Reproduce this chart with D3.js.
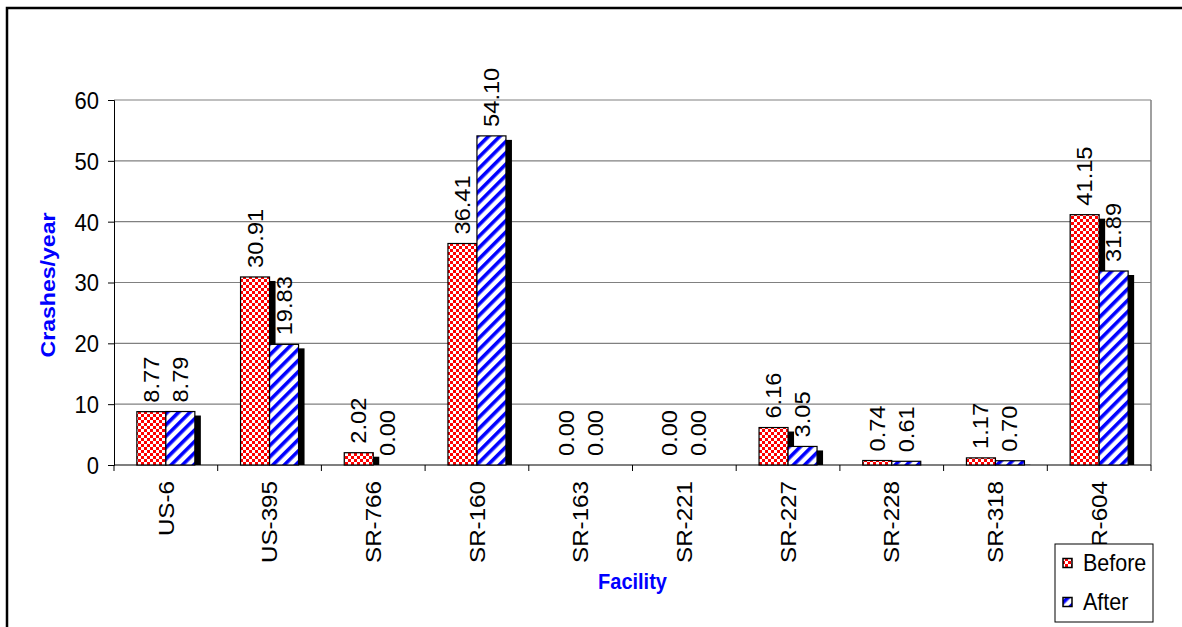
<!DOCTYPE html>
<html>
<head>
<meta charset="utf-8">
<script src="https://cdnjs.cloudflare.com/ajax/libs/d3/7.8.5/d3.min.js"></script>
<style>
  html, body { margin: 0; padding: 0; background: #fff; }
  svg { display: block; font-family: "Liberation Sans", Arial, sans-serif; }
</style>
</head>
<body>
<svg id="chart" width="1182" height="627"></svg>
<script>
// Crash frequency per facility, before and after
const facilities = ["US-6", "US-395", "SR-766", "SR-160", "SR-163", "SR-221", "SR-227", "SR-228", "SR-318", "SR-604"];
const beforeValues = [8.77, 30.91, 2.02, 36.41, 0.00, 0.00, 6.16, 0.74, 1.17, 41.15];
const afterValues  = [8.79, 19.83, 0.00, 54.10, 0.00, 0.00, 3.05, 0.61, 0.70, 31.89];
const yTicks = [0, 10, 20, 30, 40, 50, 60];
const seriesNames = ["Before", "After"];

const svg = d3.select("#chart");
const W = 1182, H = 627;
const plot = { left: 114, right: 1151, top: 100, bottom: 465 };
const SY = 1.1; // text is drawn slightly taller than wide

const x = d3.scaleBand().domain(facilities).range([plot.left, plot.right]).padding(0);
const y = d3.scaleLinear().domain([0, 60]).range([plot.bottom, plot.top]);
const barW = 29;

// Fill patterns
const defs = svg.append("defs");
const c = 3;
const chk = defs.append("pattern").attr("id", "checker")
  .attr("patternUnits", "userSpaceOnUse").attr("width", 2 * c).attr("height", 2 * c);
chk.append("rect").attr("width", 2 * c).attr("height", 2 * c).attr("fill", "#ff0000");
chk.append("rect").attr("x", 0).attr("y", 0).attr("width", c).attr("height", c).attr("fill", "#ffffff");
chk.append("rect").attr("x", c).attr("y", c).attr("width", c).attr("height", c).attr("fill", "#ffffff");

const str = defs.append("pattern").attr("id", "stripes")
  .attr("patternUnits", "userSpaceOnUse").attr("width", 8).attr("height", 8)
  .attr("patternTransform", "rotate(45)");
str.append("rect").attr("width", 8).attr("height", 8).attr("fill", "#ffffff");
str.append("rect").attr("width", 3.6).attr("height", 8).attr("fill", "#0000ff");

// Outer frame
svg.append("rect").attr("x", 7).attr("y", 8).attr("width", W + 20).attr("height", H + 20)
  .attr("fill", "none").attr("stroke", "#000").attr("stroke-width", 2.5);

// Gridlines
svg.append("g").selectAll("line").data(yTicks.filter(d => d > 0)).join("line")
  .attr("x1", plot.left).attr("x2", plot.right)
  .attr("y1", d => y(d)).attr("y2", d => y(d))
  .attr("stroke", "#808080").attr("stroke-width", 1.2);
// Plot frame right side
svg.append("line").attr("x1", plot.right).attr("x2", plot.right)
  .attr("y1", plot.top).attr("y2", plot.bottom)
  .attr("stroke", "#808080").attr("stroke-width", 1.5);

// Y axis
const yAxis = d3.axisLeft(y).tickValues(yTicks).tickSize(6).tickPadding(9).tickFormat(d3.format("d"));
const gy = svg.append("g").attr("transform", `translate(${plot.left},0)`).call(yAxis);
gy.select(".domain").attr("stroke", "#000");
gy.selectAll(".tick line").attr("stroke", "#000");
gy.selectAll(".tick text").remove();
gy.selectAll(".tick").append("text")
  .attr("transform", `translate(-15,0) scale(1,${SY})`)
  .attr("text-anchor", "end").attr("dy", "0.35em")
  .attr("font-size", 22).attr("fill", "#000")
  .attr("font-family", "Liberation Sans, Arial, sans-serif")
  .text(d => d3.format("d")(d));

// X axis: baseline with ticks at category boundaries
svg.append("line").attr("x1", plot.left).attr("x2", plot.right)
  .attr("y1", plot.bottom).attr("y2", plot.bottom).attr("stroke", "#000").attr("stroke-width", 1.2);
const bounds = facilities.map(f => x(f)).concat([plot.right]);
svg.append("g").selectAll("line").data(bounds).join("line")
  .attr("x1", d => d).attr("x2", d => d)
  .attr("y1", plot.bottom).attr("y2", plot.bottom + 6)
  .attr("stroke", "#000");

// Category labels
svg.append("g").selectAll("text").data(facilities).join("text")
  .attr("transform", d => `translate(${x(d) + x.bandwidth() / 2},481) scale(1,${SY}) rotate(-90)`)
  .attr("text-anchor", "end").attr("dy", "0.35em")
  .attr("font-size", 22).text(d => d);

// Bars with drop shadows
const series = [
  { name: "Before", values: beforeValues, fill: "url(#checker)", off: -barW },
  { name: "After", values: afterValues, fill: "url(#stripes)", off: 0 }
];
const gBars = svg.append("g");
facilities.forEach((f, i) => {
  const cx = x(f) + x.bandwidth() / 2;
  series.forEach(s => {
    const v = s.values[i];
    const top = y(v);
    const h = plot.bottom - top;
    if (h <= 0) return;
    const bx = cx + s.off;
    if (h > 4) {
      gBars.append("rect").attr("x", bx + 6).attr("y", top + 4)
        .attr("width", barW).attr("height", h - 4).attr("fill", "#000");
    }
    gBars.append("rect").attr("x", bx).attr("y", top)
      .attr("width", barW).attr("height", h)
      .attr("fill", s.fill).attr("stroke", "#000").attr("stroke-width", 1.2);
  });
});

// Value labels
const gLab = svg.append("g");
facilities.forEach((f, i) => {
  const cx = x(f) + x.bandwidth() / 2;
  series.forEach(s => {
    const v = s.values[i];
    gLab.append("text")
      .attr("transform", `translate(${cx + s.off + barW / 2},${y(v) - 9}) scale(1,${SY}) rotate(-90)`)
      .attr("text-anchor", "start").attr("dy", "0.35em")
      .attr("font-size", 21.5).text(v.toFixed(2));
  });
});

// Axis titles
svg.append("text").attr("transform", `translate(48,285) scale(1,${SY}) rotate(-90)`)
  .attr("text-anchor", "middle").attr("dy", "0.35em")
  .attr("font-size", 21).attr("font-weight", "bold").attr("fill", "#0000ff")
  .text("Crashes/year");
svg.append("text").attr("transform", `translate(${(plot.left + plot.right) / 2},581) scale(1,${SY})`)
  .attr("text-anchor", "middle").attr("dy", "0.35em")
  .attr("font-size", 20).attr("font-weight", "bold").attr("fill", "#0000ff")
  .text("Facility");

// Legend
const lg = svg.append("g");
lg.append("rect").attr("x", 1055).attr("y", 544).attr("width", 98).attr("height", 78)
  .attr("fill", "#fff").attr("stroke", "#000").attr("stroke-width", 1);
const legendFills = ["url(#checker)", "url(#stripes)"];
seriesNames.forEach((n, k) => {
  const cy = 563 + k * 39;
  lg.append("rect").attr("x", 1063).attr("y", cy - 4.5).attr("width", 9).attr("height", 9)
    .attr("fill", legendFills[k]).attr("stroke", "#000").attr("stroke-width", 1.5);
  lg.append("text").attr("transform", `translate(1083,${cy}) scale(1,${SY})`)
    .attr("dy", "0.35em")
    .attr("font-size", 21.5).text(n);
});
</script>
</body>
</html>
